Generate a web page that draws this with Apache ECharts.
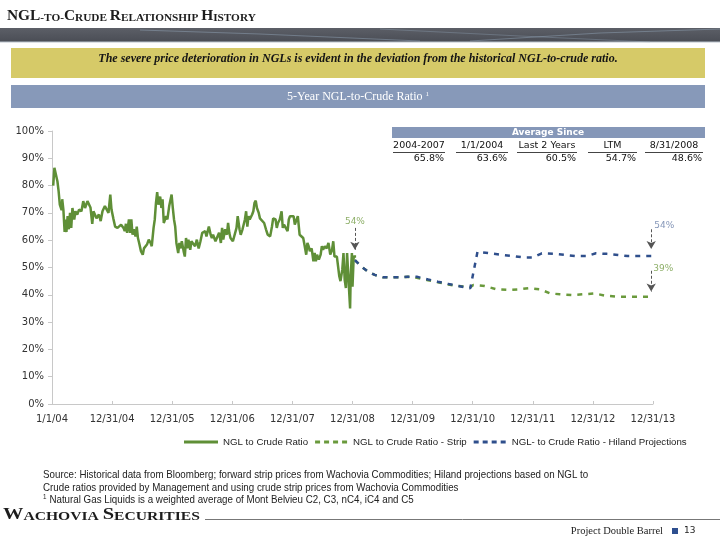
<!DOCTYPE html>
<html><head><meta charset="utf-8">
<script src="https://cdn.jsdelivr.net/npm/echarts/dist/echarts.min.js"></script>
<style>html,body{margin:0;padding:0;background:#fff}#c{width:720px;height:540px}</style>
</head><body><div id="c"></div>
<script>
// ---- data ----
const tickLabels = ['1/1/04','12/31/04','12/31/05','12/31/06','12/31/07','12/31/08','12/31/09','12/31/10','12/31/11','12/31/12','12/31/13'];
// x = years since 1/1/2004, y = NGL-to-crude ratio (%)
const history = [
[0.02,80],[0.04,86.5],[0.06,86],[0.09,81.6],[0.11,78],[0.13,73],[0.16,71],[0.17,75],[0.19,71],[0.21,63],
[0.22,67.6],[0.24,63],[0.26,68.8],[0.28,64],[0.30,70],[0.32,64.5],[0.34,71.8],[0.37,67.6],[0.39,70.6],[0.42,69.4],
[0.45,71.2],[0.49,70.6],[0.52,74.3],[0.55,71.8],[0.59,74.3],[0.62,74.3],[0.64,72],[0.67,66],[0.69,70.6],[0.72,70.6],
[0.74,68],[0.78,69.4],[0.81,67],[0.84,70.6],[0.88,72.5],[0.91,71.8],[0.94,70],[0.97,76.7],[0.99,71.2],[1.02,68],
[1.05,65],[1.09,64.5],[1.12,65],[1.15,65.7],[1.19,64.5],[1.21,63.3],[1.23,66],[1.25,62.7],[1.28,67.6],[1.30,62.7],
[1.32,67.6],[1.34,62],[1.36,64],[1.39,61.4],[1.41,65],[1.43,60.8],[1.45,59],[1.48,56],[1.51,54.7],[1.53,57],
[1.55,56.5],[1.58,58.4],[1.61,60.2],[1.64,59],[1.66,57.8],[1.69,64.5],[1.71,67.6],[1.73,73.7],[1.75,77.6],[1.77,73],
[1.80,76],[1.82,71.8],[1.84,75],[1.86,66.3],[1.90,68.8],[1.92,67.6],[1.95,72.5],[1.99,76.7],[2.01,71.8],[2.03,67.6],
[2.05,65],[2.07,59],[2.10,55.3],[2.12,59],[2.14,57],[2.16,59.6],[2.19,56],[2.21,54],[2.23,60.8],[2.25,57],
[2.27,60.2],[2.30,56.5],[2.32,59.6],[2.35,59],[2.38,57.8],[2.41,60.2],[2.44,57],[2.47,59.6],[2.50,62.7],[2.53,62],
[2.55,63.3],[2.57,61.4],[2.61,65],[2.64,62],[2.66,60.8],[2.68,62],[2.72,59.6],[2.75,60.2],[2.78,62.7],[2.81,59],
[2.83,64.5],[2.85,60.2],[2.88,64],[2.91,62],[2.93,66.3],[2.95,62.7],[2.97,60.8],[3.01,59.6],[3.04,59],[3.07,64.5],
[3.09,68.8],[3.12,64],[3.14,62],[3.17,64],[3.21,67.6],[3.23,70.6],[3.25,65],[3.27,68.8],[3.29,67.6],[3.33,69.4],
[3.35,70.6],[3.37,73.7],[3.39,74.5],[3.41,71.8],[3.44,70],[3.46,68],[3.49,67.6],[3.53,66.3],[3.56,64],[3.59,62],
[3.63,61.4],[3.66,65],[3.68,68],[3.72,67.6],[3.74,64.5],[3.76,66.3],[3.79,67.6],[3.82,70.6],[3.84,64.5],[3.86,65.7],
[3.89,65],[3.92,63.3],[3.94,67.6],[3.96,68.8],[3.99,69.4],[4.02,68.8],[4.04,65.7],[4.07,65.7],[4.09,68.8],[4.12,62],
[4.15,61.4],[4.18,60.8],[4.20,58.4],[4.23,54.7],[4.25,59],[4.27,57.8],[4.29,56],[4.32,57],[4.35,52.3],[4.37,55.3],
[4.39,52.3],[4.41,54.7],[4.44,52.9],[4.47,54.7],[4.49,57.8],[4.51,56.5],[4.54,57.8],[4.57,57],[4.60,59],[4.63,54.7],
[4.66,56.5],[4.68,59.6],[4.70,54],[4.74,54],[4.76,50.4],[4.78,46.8],[4.80,45],[4.83,49.2],[4.85,55.3],[4.87,45.5],
[4.89,42.5],[4.91,55.3],[4.94,43],[4.96,35],[4.97,46.8],[4.99,55.3],[5.00,43],[5.02,54],[5.06,54]
];
const stripX = [5.04,5.15,5.26,5.37,5.51,5.64,5.79,5.92,6.07,6.26,6.42,6.59,6.76,6.96,7.01,7.20,7.40,7.59,7.76,7.93,8.12,8.29,8.45,8.65,8.84,9.03,9.20,9.40,9.56,9.76,9.95];
const stripY = [52.7,50.3,48.5,47.3,46.4,46.4,46.4,46.6,46.2,45.3,44.6,43.8,43.2,42.8,43.6,43.2,42.0,41.8,42.0,42.4,42.0,40.5,40.2,39.9,40.2,40.5,39.7,39.3,39.3,39.3,39.3];
const hilandX = [5.04,5.15,5.26,5.37,5.51,5.64,5.79,5.92,6.07,6.26,6.42,6.59,6.76,6.96,7.08,7.29,7.49,7.67,7.84,8.00,8.15,8.34,8.54,8.70,8.90,9.05,9.23,9.42,9.58,9.78,9.98];
const hilandY = [52.7,50.3,48.5,47.3,46.4,46.4,46.4,46.6,46.6,45.6,44.8,44.0,43.2,42.4,55.8,55.2,54.6,54.2,53.7,53.7,55.2,55.0,54.6,54.2,54.2,55.2,55.0,54.6,54.2,54.2,54.2];
const seriesNames = ['NGL to Crude Ratio','NGL to Crude Ratio - Strip','NGL- to Crude Ratio - Hiland Projections'];
const tableTitle = 'Average Since';
const tableHeaders = ['2004-2007','1/1/2004','Last 2 Years','LTM','8/31/2008'];
const tableValues = [65.8, 63.6, 60.5, 54.7, 48.6];
const callouts = [
  {x:5.04, y0:64.5, y1:56.5, text:'54%', color:'#8fb06a', dx:0, dy:-6},
  {x:9.97, y0:64.0, y1:56.8, text:'54%', color:'#8596b8', dx:13, dy:-4},
  {x:9.97, y0:48.8, y1:41.2, text:'39%', color:'#8fb06a', dx:12, dy:-2}
];

// ---- layout ----
const GREEN = '#5f8f37', STRIP = '#6a9a3c', BLUE = '#2f4f8c', GRAY = '#333';
const DASH_ICON = 'path://M0,0h5v3h-5z M9,0h5v3h-5z M18,0h5v3h-5z M27,0h5v3h-5z';
const SOLID_ICON = 'path://M0,0h34v3h-34z';
const colSpans = [[393,445],[456,508],[517,577],[588,637],[645,703]];
const tableG = [];
tableG.push({type:'rect', shape:{x:392,y:127,width:313,height:11}, style:{fill:'#8597b8'}});
tableG.push({type:'text', x:548, y:132.5, style:{text:tableTitle, fill:'#fff', font:'bold 9px "DejaVu Sans"', textAlign:'center', textVerticalAlign:'middle'}});
tableHeaders.forEach((h,i)=>{
  const [a,b] = colSpans[i];
  tableG.push({type:'text', x:(a+b)/2, y:146, style:{text:h, fill:'#111', font:'9.5px "DejaVu Sans"', textAlign:'center', textVerticalAlign:'middle'}});
  tableG.push({type:'line', shape:{x1:a,y1:152.5,x2:b,y2:152.5}, style:{stroke:'#444', lineWidth:1}});
  tableG.push({type:'text', x:b-1, y:158.5, style:{text:tableValues[i].toFixed(1)+'%', fill:'#111', font:'9.5px "DejaVu Sans"', textAlign:'right', textVerticalAlign:'middle'}});
});

const chart = echarts.init(document.getElementById('c'), null, {renderer:'canvas'});
const smallCaps = (big, small) => ({
  a:{fontSize:big, fontFamily:'Liberation Serif', fontWeight:'bold', fill:'#1d1d1d', verticalAlign:'bottom', lineHeight:big},
  b:{fontSize:small, fontFamily:'Liberation Serif', fontWeight:'bold', fill:'#1d1d1d', verticalAlign:'bottom', lineHeight:big}
});
const NARROW = '11px "Liberation Sans"';

const option = {
  animation:false,
  backgroundColor:'#fff',
  grid:{left:52, right:67, top:131, bottom:136},
  xAxis:{type:'value', min:0, max:10, interval:1,
    axisLine:{show:true, lineStyle:{color:'#c8c8c8'}},
    axisTick:{show:true, inside:true, length:3, lineStyle:{color:'#c8c8c8'}},
    splitLine:{show:false},
    axisLabel:{margin:10, color:GRAY, fontFamily:'DejaVu Sans', fontSize:10, formatter:(v)=>tickLabels[Math.round(v)] || ''}
  },
  yAxis:{type:'value', min:0, max:100, interval:10,
    axisLine:{show:true, lineStyle:{color:'#c8c8c8'}},
    axisTick:{show:true, length:4, lineStyle:{color:'#c8c8c8'}},
    splitLine:{show:false},
    axisLabel:{margin:8, color:GRAY, fontFamily:'DejaVu Sans', fontSize:10, formatter:'{value}%'}
  },
  legend:{left:179, top:432, itemWidth:34, itemHeight:3, itemGap:7, width:541,
    textStyle:{fontFamily:'"Liberation Sans Narrow", "Liberation Sans"', fontSize:9.7, color:'#222'},
    data:[
      {name:seriesNames[0], icon:SOLID_ICON, itemStyle:{color:GREEN}},
      {name:seriesNames[1], icon:DASH_ICON, itemStyle:{color:STRIP}},
      {name:seriesNames[2], icon:DASH_ICON, itemStyle:{color:BLUE}}
    ]},
  series:[
    {name:seriesNames[0], type:'line', symbol:'none', data:history, lineStyle:{color:GREEN, width:2.5}, itemStyle:{color:GREEN},
      markPoint:{symbol:'circle', symbolSize:0, silent:true,
        data:callouts.map(c=>({coord:[c.x, c.y0], label:{show:true, formatter:c.text, color:c.color, fontSize:9, fontFamily:'DejaVu Sans', position:'inside', offset:[c.dx, c.dy]}}))},
      markLine:{silent:true, symbol:['none','arrow'], symbolSize:[7,8], label:{show:false},
        lineStyle:{color:'#555', type:[3,2], width:1},
        data:callouts.map(c=>[{coord:[c.x,c.y0]},{coord:[c.x,c.y1]}])}
    },
    {name:seriesNames[1], type:'line', symbol:'none', data:stripX.map((x,i)=>[x,stripY[i]]), lineStyle:{color:STRIP, width:2.5, type:[5,6]}, itemStyle:{color:STRIP}},
    {name:seriesNames[2], type:'line', symbol:'none', data:hilandX.map((x,i)=>[x,hilandY[i]]), lineStyle:{color:BLUE, width:2.5, type:[5,6]}, itemStyle:{color:BLUE}}
  ],
  graphic:[
    {type:'text', x:7, y:9, scaleX:1.025, style:{text:'{a|NGL}{b|-TO-}{a|C}{b|RUDE }{a|R}{b|ELATIONSHIP }{a|H}{b|ISTORY}', rich:smallCaps(15,11)}},
    {type:'rect', shape:{x:0,y:28,width:720,height:14}, style:{fill:new echarts.graphic.LinearGradient(0,0,0,1,[{offset:0,color:'#5c5f67'},{offset:1,color:'#4a4d55'}])}},
    {type:'polyline', shape:{points:[[140,30],[260,34],[420,41]]}, style:{stroke:'rgba(150,170,190,0.45)', lineWidth:1, fill:null}},
    {type:'polyline', shape:{points:[[470,41],[600,33],[720,29]]}, style:{stroke:'rgba(150,170,190,0.45)', lineWidth:1, fill:null}},
    {type:'polyline', shape:{points:[[380,29],[520,36],[650,42]]}, style:{stroke:'rgba(150,170,190,0.35)', lineWidth:1, fill:null}},
    {type:'line', shape:{x1:0,y1:42,x2:720,y2:42}, style:{stroke:'#b9c2cc', lineWidth:1}},
    {type:'rect', shape:{x:11,y:48,width:694,height:30}, style:{fill:'#d6ca68'}},
    {type:'text', x:358, y:59, style:{text:'The severe price deterioration in NGLs is evident in the deviation from the historical NGL-to-crude ratio.', fill:'#151515', font:'italic bold 12px "Liberation Serif"', textAlign:'center', textVerticalAlign:'middle'}},
    {type:'rect', shape:{x:11,y:85,width:694,height:23}, style:{fill:'#8799b9'}},
    {type:'text', x:358, y:97, style:{text:'{t|5-Year NGL-to-Crude Ratio }{s|1}', align:'center', verticalAlign:'middle', rich:{t:{fill:'#fff', fontSize:12, fontFamily:'Liberation Serif'}, s:{fill:'#fff', fontSize:7, fontFamily:'Liberation Serif', verticalAlign:'top'}}}},
    ...tableG,
    {type:'text', x:43, y:475, scaleX:0.888, style:{text:'Source: Historical data from Bloomberg; forward strip prices from Wachovia Commodities; Hiland projections based on NGL to', fill:'#222', font:NARROW, textVerticalAlign:'middle'}},
    {type:'text', x:43, y:488, scaleX:0.888, style:{text:'Crude ratios provided by Management and using crude strip prices from Wachovia Commodities', fill:'#222', font:NARROW, textVerticalAlign:'middle'}},
    {type:'text', x:43, y:500, scaleX:0.888, style:{text:'{s|1} {t|Natural Gas Liquids is a weighted average of Mont Belvieu C2, C3, nC4, iC4 and C5}', rich:{t:{fill:'#222', fontSize:11, fontFamily:'Liberation Sans'}, s:{fill:'#222', fontSize:7, fontFamily:'Liberation Sans', verticalAlign:'top'}}, textVerticalAlign:'middle'}},
    {type:'text', x:3, y:506, scaleX:1.2, style:{text:'{a|W}{b|ACHOVIA }{a|S}{b|ECURITIES}', rich:smallCaps(17,13)}},
    {type:'line', shape:{x1:205,y1:519.5,x2:720,y2:519.5}, style:{stroke:'#777', lineWidth:1}},
    {type:'text', x:663, y:531, style:{text:'Project Double Barrel', fill:'#222', font:'10.5px "Liberation Serif"', textAlign:'right', textVerticalAlign:'middle'}},
    {type:'rect', shape:{x:672,y:528,width:6,height:6}, style:{fill:'#2e4f8f'}},
    {type:'text', x:684, y:531, style:{text:'13', fill:'#222', font:'9px "DejaVu Sans"', textVerticalAlign:'middle'}}
  ]
};
chart.setOption(option);
</script>
</body></html>
